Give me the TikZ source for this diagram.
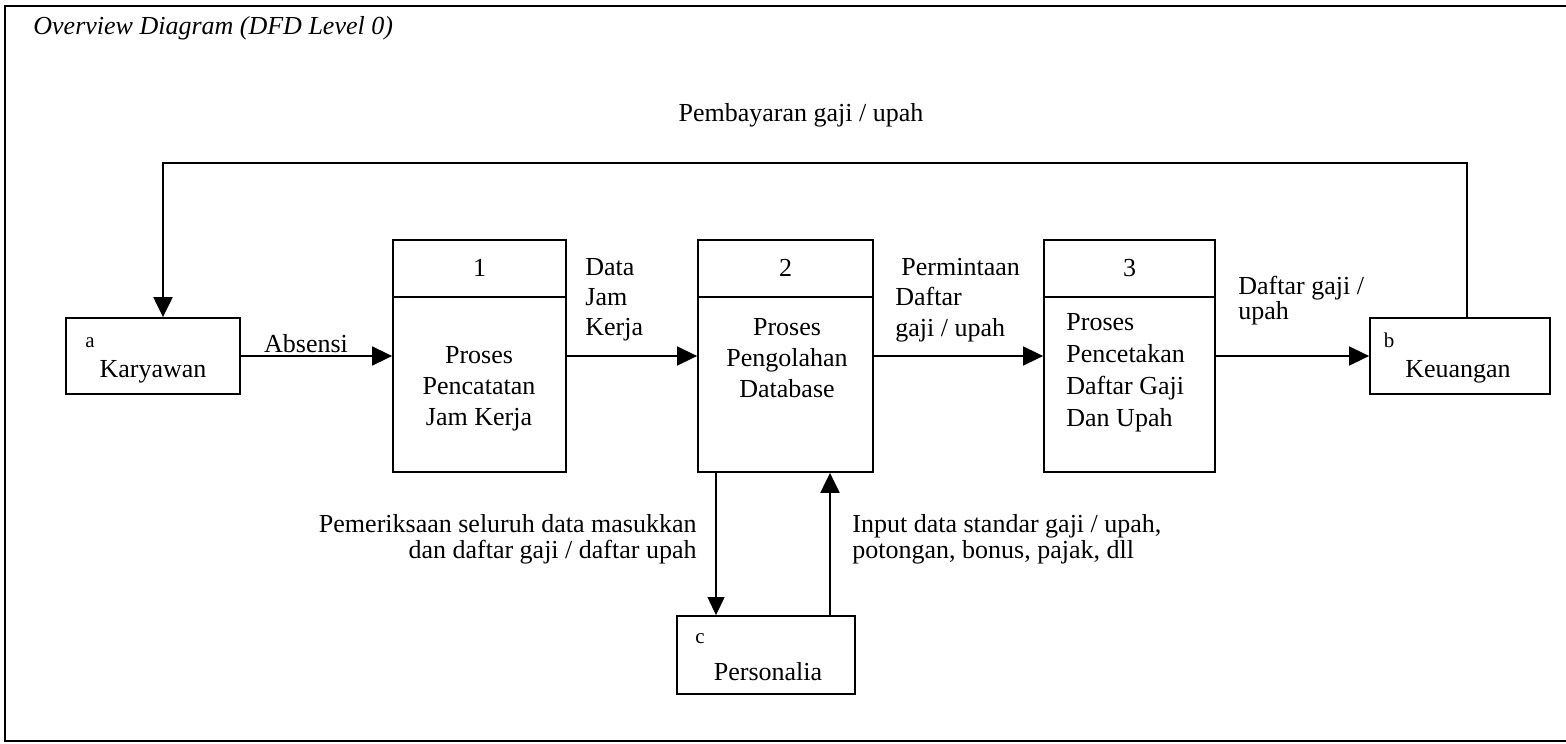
\documentclass[tikz,border=0pt]{standalone}
\usepackage{fontspec}
\setmainfont{Liberation Serif}
\usetikzlibrary{arrows.meta,calc}

\begin{document}
\begin{tikzpicture}[x=0.5pt,y=-0.5pt,
  every node/.style={font=\fontsize{13}{15.5}\selectfont, inner sep=0pt},
  entity/.style={draw, line width=0.9pt, minimum height=38pt},
  procbox/.style={draw, line width=0.9pt, minimum height=116pt},
  tag/.style={font=\fontsize{10.5}{12}\selectfont},
  flow/.style={line width=0.8pt, -{Triangle[length=10pt,width=9.5pt]}},
  thinflow/.style={line width=0.6pt, -{Triangle[length=9pt,width=8.5pt]}},
  boldflow/.style={line width=1.1pt, -{Triangle[length=10pt,width=9.5pt]}}]

\useasboundingbox (0,0) rectangle (1566,743);

% outer frame (open on the right)
\draw[line width=1pt] (1580,6) -- (5,6) -- (5,741) -- (1580,741);
\node[anchor=base west, font=\fontsize{13}{15.5}\selectfont\itshape] (title) at (33,35)
  {Overview Diagram (DFD Level 0)};

% external entities
\node[entity, minimum width=87pt] (kar) at (153,356) {};
\node[tag] (kara) at (90,343) {a};
\node (kartxt) at (153,372) {Karyawan};

\node[entity, minimum width=90pt] (keu) at (1460,356) {};
\node[tag] (keub) at (1389,340) {b};
\node (keutxt) at (1458,372) {Keuangan};

\node[entity, minimum width=89pt, minimum height=39pt] (per) at (766,655) {};
\node[tag] (perc) at (700,639) {c};
\node (pertxt) at (768,672) {Personalia};

% processes
\node[procbox, minimum width=86.5pt] (p1) at (479.5,356) {};
\node[procbox, minimum width=87.5pt] (p2) at (785.5,356) {};
\node[procbox, minimum width=85.5pt] (p3) at (1129.5,356) {};
\foreach \p in {p1,p2,p3}
  \draw[line width=0.9pt] ([yshift=-29pt]\p.north west) -- ([yshift=-29pt]\p.north east);

\node (n1) at ([yshift=-14.5pt]p1.north) {1};
\node (n2) at ([yshift=-14.5pt]p2.north) {2};
\node (n3) at ([yshift=-14.5pt]p3.north) {3};

\node[align=center] (t1) at (479,389) {Proses\\Pencatatan\\Jam Kerja};
\node[align=center] (t2) at (787,358) {Proses\\Pengolahan\\Database};
\node[align=left, anchor=west, font=\fontsize{13}{16}\selectfont] (t3) at (1066,373)
  {Proses\\Pencetakan\\Daftar Gaji\\Dan Upah};

% data flows
\draw[flow] (kar.east) -- (p1.west);
\draw[flow] (p1.east) -- (p2.west);
\draw[flow] (p2.east) -- (p3.west);
\draw[flow] (p3.east) -- (keu.west);

\coordinate (tr) at (1467,163);
\coordinate (tl) at (163,163);
\draw[boldflow] (keu.north -| tr) -- (tr) -- (tl) -- (kar.north -| tl);

\coordinate (dn) at (716,0);
\coordinate (up) at (830,0);
\draw[thinflow] (p2.south -| dn) -- (per.north -| dn);
\draw[boldflow] (per.north -| up) -- (p2.south -| up);

% flow labels
\node (lpay) at (801,115) {Pembayaran gaji / upah};
\node (labs) at (306,344) {Absensi};
\node[align=left, anchor=west, font=\fontsize{13}{15}\selectfont] (ljam) at (585,300) {Data\\Jam\\Kerja};
\node[align=left, anchor=west, font=\fontsize{13}{15.3}\selectfont] (lreq) at (895,300)
  {\hspace{3pt}Permintaan\\Daftar\\gaji / upah};
\node[align=left, anchor=west, font=\fontsize{13}{12.5}\selectfont] (llist) at (1238,301)
  {Daftar gaji /\\upah};
\node[align=right, anchor=east, font=\fontsize{13}{13}\selectfont] (lcheck) at (697,539)
  {Pemeriksaan seluruh data masukkan\\dan daftar gaji / daftar upah};
\node[align=left, anchor=west, font=\fontsize{13}{13}\selectfont] (linput) at (852,539)
  {Input data standar gaji / upah,\\potongan, bonus, pajak, dll};
\end{tikzpicture}
\end{document}
